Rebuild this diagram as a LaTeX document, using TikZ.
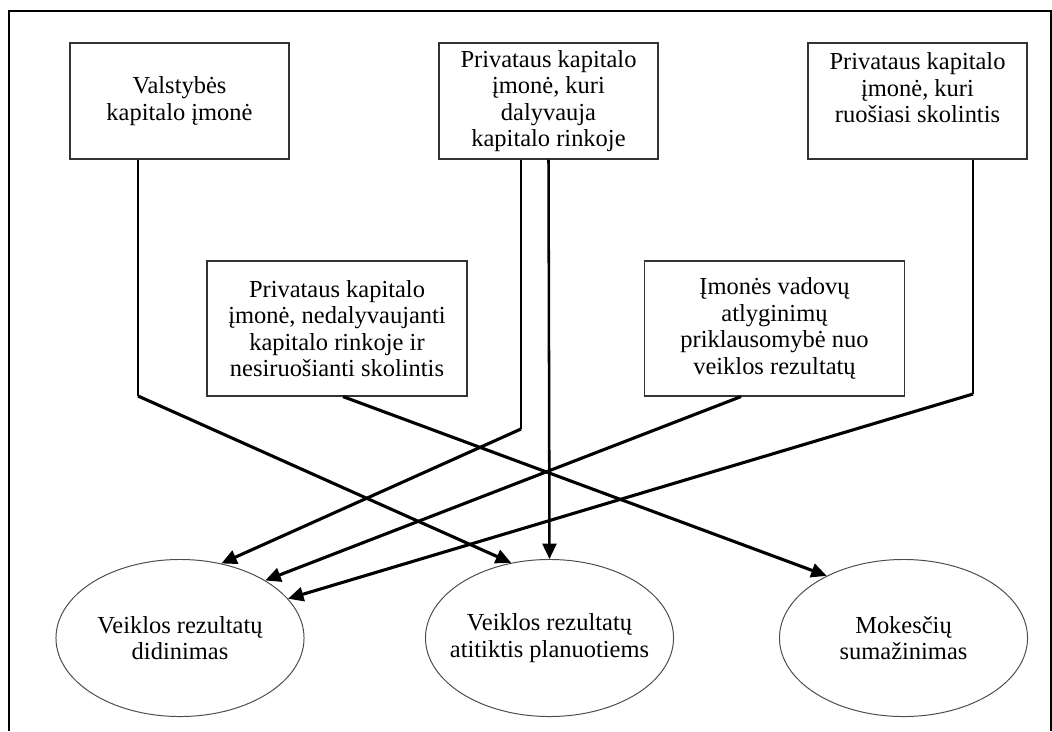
\documentclass[tikz,border=0pt]{standalone}
\usepackage{fontspec}
\setmainfont{Liberation Serif}
\usetikzlibrary{arrows.meta,shapes.geometric,calc}
\begin{document}
\begin{tikzpicture}[x=0.025cm,y=-0.025cm,
        font=\fontsize{17.4}{18.8}\selectfont,
        dezute/.style={draw=black!80,line width=0.8pt,align=center,inner sep=0pt,
            minimum width=5.475cm,minimum height=2.9cm},
        platesne/.style={minimum width=6.5cm,minimum height=3.375cm},
        elipse/.style={ellipse,draw=black!70,line width=0.7pt,inner sep=0pt,
            minimum width=6.2cm,minimum height=3.925cm},
        plona/.style={line width=1pt},
        stora/.style={line width=2.2pt,-{Triangle[length=11pt,width=10pt]}}]
    \useasboundingbox (0,0) rectangle (1052,731);
    \draw[line width=2pt] (9,731) -- (9,11) -- (1051,11) -- (1051,731);
    \node[dezute] (valst) at (179.5,101) {Valstybės\\kapitalo įmonė};
    \node[dezute] (rinka) at (548.5,101) {Privataus kapitalo\\įmonė, kuri\\dalyvauja\\kapitalo rinkoje};
    \node[dezute] (skola) at (917.5,101) {Privataus kapitalo\\įmonė, kuri\\ruošiasi skolintis\\~};
    \node[dezute,platesne] (nedal) at (337,328.5) {Privataus kapitalo\\įmonė, nedalyvaujanti\\kapitalo rinkoje ir\\nesiruošianti skolintis};
    \node[dezute,platesne] (vadov) at (774.5,328.5) {Įmonės vadovų\\atlyginimų\\priklausomybė nuo\\veiklos rezultatų};
    \node[elipse,label={[align=center]center:Veiklos rezultatų\\didinimas}] (didin) at (180,638) {};
    \node[elipse,label={[align=center]center:Veiklos rezultatų\\atitiktis planuotiems}] (atit) at (549.5,638) {};
    \node[elipse,label={[align=center]center:Mokesčių\\sumažinimas}] (mokes) at (903.5,638) {};
    \coordinate (lA) at (138,396);
    \coordinate (lB) at (521,429);
    \coordinate (lC) at (973,394);
    \draw[plona] (valst.south -| lA) -- (lA);
    \draw[stora] (lA) -- (atit.117.5);
    \draw[plona] (rinka.south -| lB) -- (lB);
    \draw[stora] (lB) -- (didin.61);
    \draw[stora,line width=1.8pt] (rinka.south) -- (atit.north);
    \draw[plona] (skola.south -| lC) -- (lC);
    \draw[stora] (lC) -- (didin.20);
    \draw[stora] ($(nedal.south)+(6,0)$) -- (mokes.141);
    \draw[stora] ($(vadov.south)+(-33.5,0)$) -- (didin.34);
\end{tikzpicture}
\end{document}
